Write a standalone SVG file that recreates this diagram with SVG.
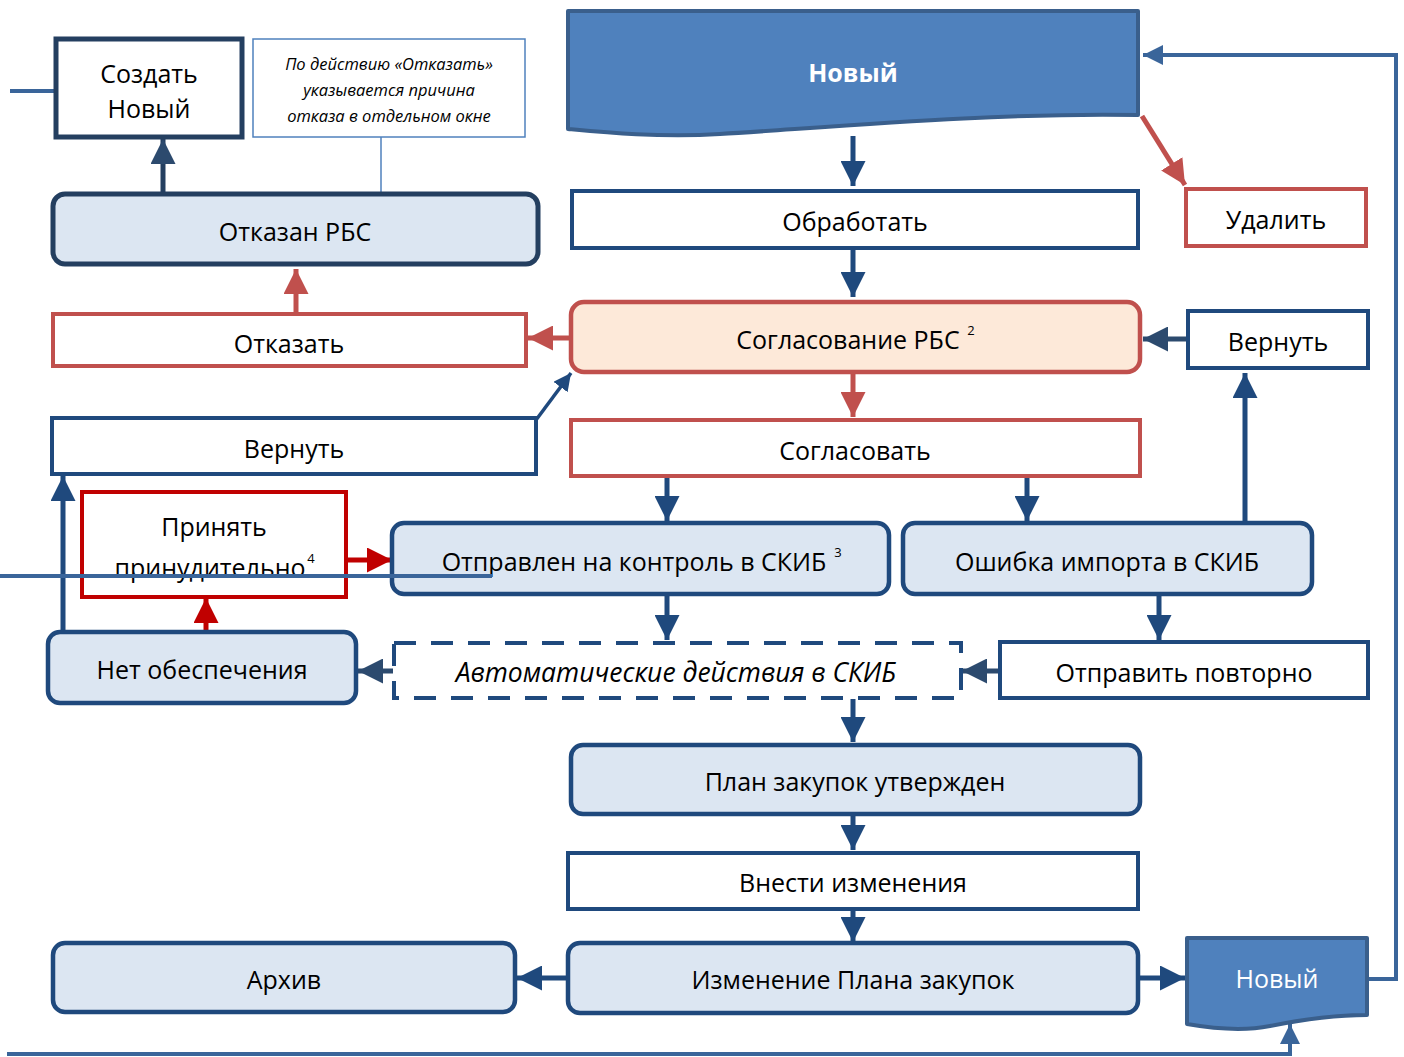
<svg xmlns="http://www.w3.org/2000/svg" width="1404" height="1057" viewBox="0 0 1404 1057">
<defs>
<style>
.t{font-family:"Open Sans","DejaVu Sans",sans-serif;font-size:25px;fill:#000;text-anchor:middle;dominant-baseline:central}
.sup{font-size:13px}
.bx{fill:#fff;stroke:#1f497d;stroke-width:4}
.rb{fill:#dce6f2;stroke:#1f497d;stroke-width:4.5}
.red{fill:#fff;stroke:#c0504d;stroke-width:4}
.ln{fill:none;stroke:#1f497d;stroke-width:5}
.lr{fill:none;stroke:#c0504d;stroke-width:5}
.lb{fill:none;stroke:#3a659a;stroke-width:4}
</style>
<marker id="ab" viewBox="0 0 10 10" refX="10" refY="5" markerWidth="5" markerHeight="5" orient="auto" markerUnits="strokeWidth"><path d="M0,0L10,5L0,10z" fill="#1f497d"/></marker>
<marker id="ad" viewBox="0 0 10 10" refX="10" refY="5" markerWidth="5" markerHeight="5" orient="auto" markerUnits="strokeWidth"><path d="M0,0L10,5L0,10z" fill="#2c4a6e"/></marker>
<marker id="ar" viewBox="0 0 10 10" refX="10" refY="5" markerWidth="5" markerHeight="5" orient="auto" markerUnits="strokeWidth"><path d="M0,0L10,5L0,10z" fill="#c0504d"/></marker>
<marker id="ac" viewBox="0 0 10 10" refX="10" refY="5" markerWidth="5" markerHeight="5" orient="auto" markerUnits="strokeWidth"><path d="M0,0L10,5L0,10z" fill="#c00000"/></marker>
<marker id="al" viewBox="0 0 10 10" refX="10" refY="5" markerWidth="5" markerHeight="5" orient="auto" markerUnits="strokeWidth"><path d="M0,0L10,5L0,10z" fill="#3a659a"/></marker>
</defs>
<rect width="1404" height="1057" fill="#fff"/>

<g id="connectors">
<path class="lb" d="M10,91H56"/>
<path d="M381,137V193" fill="none" stroke="#4f81bd" stroke-width="1.5"/>
<path class="ln" d="M853,136V186" marker-end="url(#ab)"/>
<path class="lr" d="M1142,116L1185,185" marker-end="url(#ar)"/>
<path class="ln" d="M853,249V297" marker-end="url(#ab)"/>
<path class="lr" d="M571,338H528" marker-end="url(#ar)"/>
<path class="lr" d="M296,313V269" marker-end="url(#ar)"/>
<path d="M163,193V139" fill="none" stroke="#243f60" stroke-width="5" marker-end="url(#ad)"/>
<path d="M1188,339H1143" fill="none" stroke="#2c4a6e" stroke-width="5" marker-end="url(#ad)"/>
<path class="ln" d="M1245,522V373" marker-end="url(#ab)"/>
<path class="lr" d="M853,373V417" marker-end="url(#ar)"/>
<path class="ln" d="M667,477V521" marker-end="url(#ab)"/>
<path class="ln" d="M1027,477V521" marker-end="url(#ab)"/>
<path d="M536,420L571,373" fill="none" stroke="#1f497d" stroke-width="3.5" marker-end="url(#ab)"/>
<path d="M347,560H392" fill="none" stroke="#c00000" stroke-width="5" marker-end="url(#ac)"/>
<path d="M206,632V598" fill="none" stroke="#c00000" stroke-width="5" marker-end="url(#ac)"/>
<path class="ln" d="M63,632V476" marker-end="url(#ab)"/>
<path class="ln" d="M667,595V640" marker-end="url(#ab)"/>
<path class="ln" d="M1159,595V640" marker-end="url(#ab)"/>
<path d="M1000,671H962" fill="none" stroke="#2c4a6e" stroke-width="5" marker-end="url(#ad)"/>
<path d="M393,671H358" fill="none" stroke="#2c4a6e" stroke-width="5" marker-end="url(#ad)"/>
<path class="ln" d="M853,699V742" marker-end="url(#ab)"/>
<path class="ln" d="M853,815V850" marker-end="url(#ab)"/>
<path class="ln" d="M853,910V942" marker-end="url(#ab)"/>
<path class="ln" d="M568,978H517" marker-end="url(#ab)"/>
<path class="ln" d="M1138,978H1185" marker-end="url(#ab)"/>
<path class="lb" d="M1368,979H1396V55H1143" marker-end="url(#al)"/>
<path class="lb" d="M7,1054H1290V1024" marker-end="url(#al)"/>
</g>

<g id="n-novyi-top">
<path d="M568,11H1138V115C1000,112 820,128 720,134C660,138 600,132 568,129Z" fill="#4f81bd" stroke="#3a5f8c" stroke-width="4" stroke-linejoin="round"/>
<text class="t" x="853" y="72" style="fill:#fff;font-weight:bold">Новый</text>
</g>
<g id="n-sozdat">
<rect x="56" y="39" width="186" height="98" fill="#fff" stroke="#243f60" stroke-width="5"/>
<text class="t" x="149" y="73">Создать</text>
<text class="t" x="149" y="108">Новый</text>
</g>
<g id="n-note">
<rect x="253" y="39" width="272" height="98" fill="#fff" stroke="#4f81bd" stroke-width="1.5"/>
<text class="t" x="389" y="63" style="font-size:16.5px;font-style:italic">По действию «Отказать»</text>
<text class="t" x="389" y="89" style="font-size:16.5px;font-style:italic">указывается причина</text>
<text class="t" x="389" y="115" style="font-size:16.5px;font-style:italic">отказа в отдельном окне</text>
</g>
<g id="n-obrabotat">
<rect class="bx" x="572" y="191" width="566" height="57"/>
<text class="t" x="855" y="221">Обработать</text>
</g>
<g id="n-udalit">
<rect class="red" x="1186" y="189" width="180" height="57"/>
<text class="t" x="1276" y="219">Удалить</text>
</g>
<g id="n-otkazan">
<rect x="53" y="194" width="485" height="70" rx="12" fill="#dce6f2" stroke="#243f60" stroke-width="5"/>
<text class="t" x="295" y="231">Отказан РБС</text>
</g>
<g id="n-otkazat">
<rect class="red" x="53" y="314" width="473" height="52"/>
<text class="t" x="289" y="343">Отказать</text>
</g>
<g id="n-soglasovanie">
<rect x="571" y="302" width="569" height="70" rx="13" fill="#fde9d9" stroke="#c0504d" stroke-width="4.5"/>
<text class="t" x="848" y="339">Согласование РБС</text>
<text class="t sup" x="971" y="330">2</text>
</g>
<g id="n-vernut-r">
<rect class="bx" x="1188" y="311" width="180" height="57"/>
<text class="t" x="1278" y="341">Вернуть</text>
</g>
<g id="n-vernut-l">
<rect class="bx" x="52" y="418" width="484" height="56"/>
<text class="t" x="294" y="448">Вернуть</text>
</g>
<g id="n-soglasovat">
<rect class="red" x="571" y="420" width="569" height="56"/>
<text class="t" x="855" y="450">Согласовать</text>
</g>
<g id="n-prinyat">
<rect x="82" y="492" width="264" height="105" fill="#fff" stroke="#c00000" stroke-width="4"/>
<text class="t" x="214" y="526">Принять</text>
<text class="t" x="210" y="567">принудительно</text>
<text class="t sup" x="311" y="558">4</text>
</g>
<g id="n-otpravlen">
<rect class="rb" x="392" y="523" width="497" height="71" rx="12"/>
<text class="t" x="634" y="561">Отправлен на контроль в СКИБ</text>
<text class="t sup" x="838" y="552">3</text>
</g>
<g id="n-oshibka">
<rect class="rb" x="903" y="523" width="409" height="71" rx="12"/>
<text class="t" x="1107" y="561">Ошибка импорта в СКИБ</text>
</g>
<g id="n-net">
<rect class="rb" x="48" y="632" width="308" height="71" rx="12"/>
<text class="t" x="202" y="669">Нет обеспечения</text>
</g>
<g id="n-avto">
<rect x="394" y="643" width="567" height="55" fill="#fff" stroke="#1f497d" stroke-width="4" stroke-dasharray="22 15"/>
<text class="t" x="676" y="672" style="font-style:italic;font-size:26.5px">Автоматические действия в СКИБ</text>
</g>
<g id="n-otpravit">
<rect class="bx" x="1000" y="642" width="368" height="56"/>
<text class="t" x="1184" y="672">Отправить повторно</text>
</g>
<g id="n-plan">
<rect class="rb" x="571" y="745" width="569" height="69" rx="12"/>
<text class="t" x="855" y="781">План закупок утвержден</text>
</g>
<g id="n-vnesti">
<rect class="bx" x="568" y="853" width="570" height="56"/>
<text class="t" x="853" y="882">Внести изменения</text>
</g>
<g id="n-arhiv">
<rect class="rb" x="53" y="943" width="462" height="69" rx="12"/>
<text class="t" x="284" y="979">Архив</text>
</g>
<g id="n-izmenenie">
<rect class="rb" x="568" y="943" width="570" height="70" rx="12"/>
<text class="t" x="853" y="979">Изменение Плана закупок</text>
</g>
<g id="n-novyi-bottom">
<path d="M1187,938H1367V1015C1330,1015 1300,1020 1270,1026C1240,1032 1210,1028 1187,1024Z" fill="#4f81bd" stroke="#3a5f8c" stroke-width="4" stroke-linejoin="round"/>
<text class="t" x="1277" y="978" style="fill:#fff">Новый</text>
</g>
<g id="crossline">
<path class="lb" d="M0,576H492"/>
</g>
</svg>
